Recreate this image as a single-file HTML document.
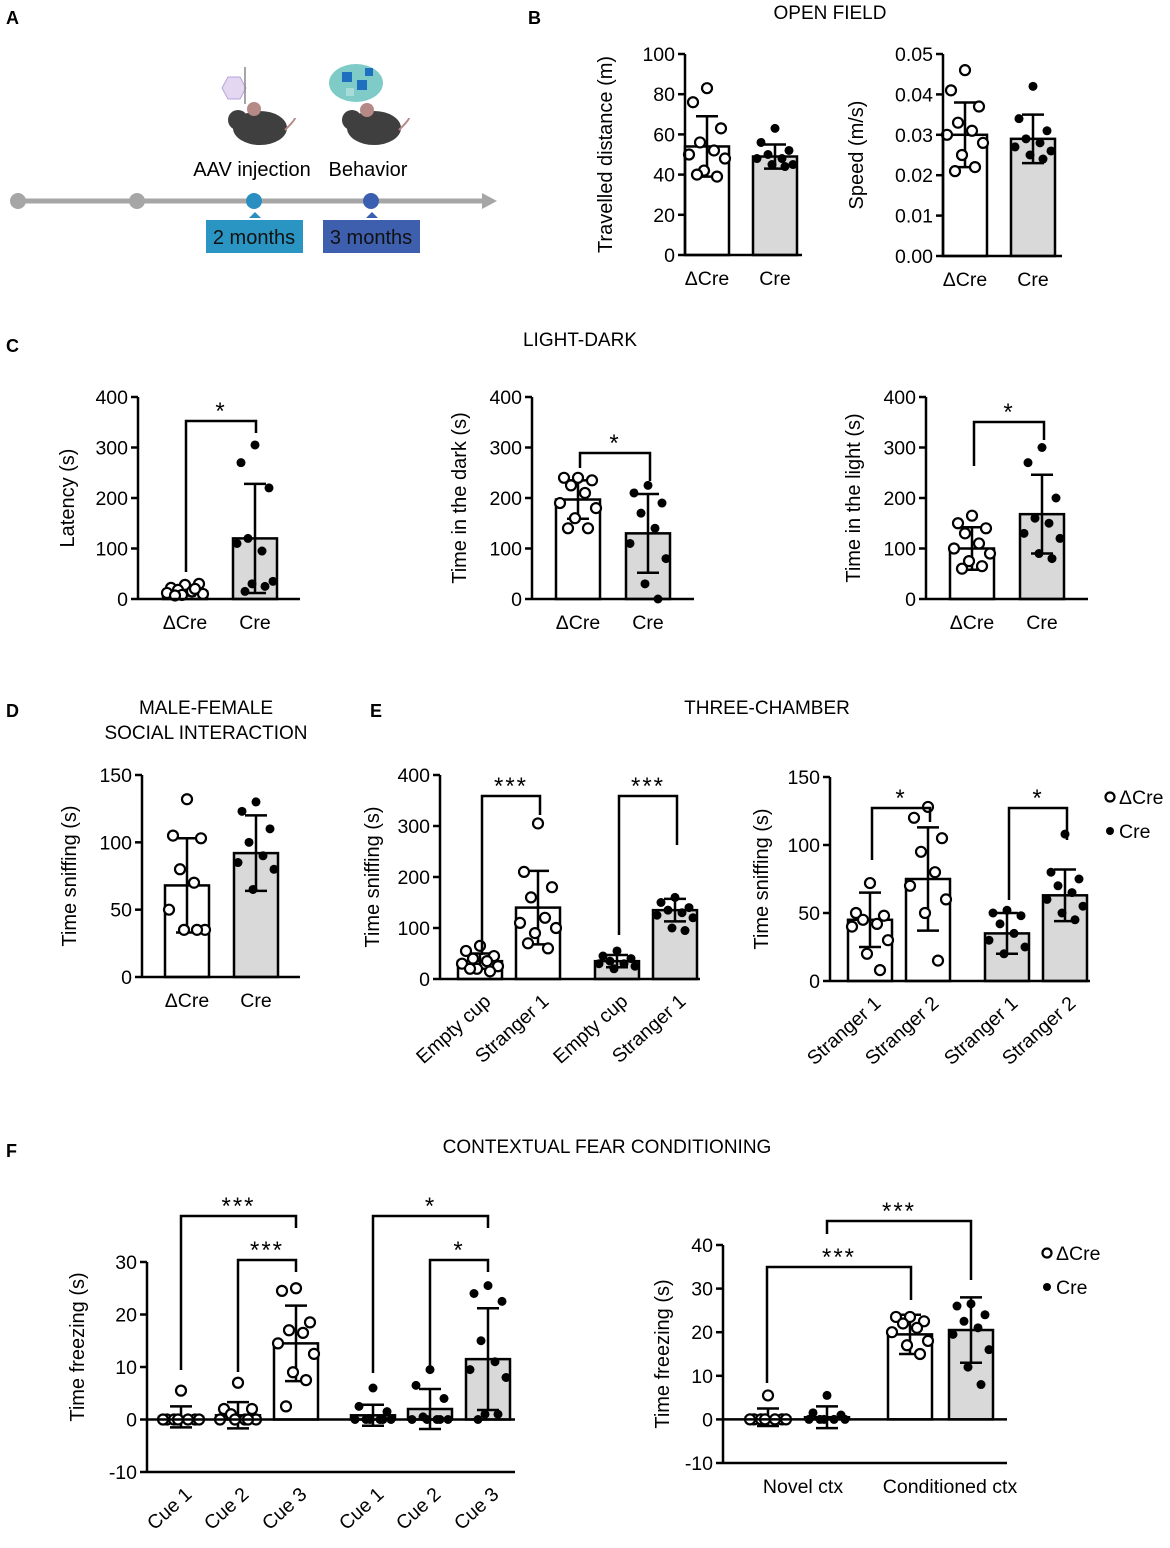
<!DOCTYPE html>
<html><head><meta charset="utf-8">
<style>
html,body{margin:0;padding:0;background:#fff;}
svg{display:block;font-family:"Liberation Sans",Arial,sans-serif;}
</style></head>
<body>
<svg id="fig" width="1170" height="1548" viewBox="0 0 1170 1548" xmlns="http://www.w3.org/2000/svg">
<g font-size="18" font-weight="bold" fill="#000">
<text x="6" y="24">A</text>
<text x="528" y="24">B</text>
<text x="6" y="352">C</text>
<text x="6" y="717">D</text>
<text x="370" y="717">E</text>
<text x="6" y="1157">F</text>
</g>
<g font-size="19" fill="#000" text-anchor="middle">
<text x="830" y="19">OPEN FIELD</text>
<text x="580" y="346">LIGHT-DARK</text>
<text x="206" y="714">MALE-FEMALE</text>
<text x="206" y="739">SOCIAL INTERACTION</text>
<text x="767" y="714">THREE-CHAMBER</text>
<text x="607" y="1153">CONTEXTUAL FEAR CONDITIONING</text>
</g>
<g>
<line x1="18" y1="201" x2="485" y2="201" stroke="#a6a6a6" stroke-width="5"/>
<polygon points="482,193 497,201 482,209" fill="#a6a6a6"/>
<circle cx="18" cy="201" r="8" fill="#a6a6a6"/>
<circle cx="137" cy="201" r="8" fill="#a6a6a6"/>
<circle cx="254" cy="201" r="8" fill="#2a8fc0"/>
<circle cx="371" cy="201" r="8" fill="#3b5fb0"/>
<polygon points="249,218 255,212 261,218" fill="#2a8fc0"/>
<polygon points="366,218 372,212 378,218" fill="#3b5fb0"/>
<rect x="206" y="220" width="97" height="33" fill="#2a94c2"/>
<rect x="323" y="220" width="97" height="33" fill="#3e5fae"/>
<text x="254" y="244" font-size="20" text-anchor="middle" fill="#111">2 months</text>
<text x="371" y="244" font-size="20" text-anchor="middle" fill="#111">3 months</text>
<text x="252" y="176" font-size="20" text-anchor="middle">AAV injection</text>
<text x="368" y="176" font-size="20" text-anchor="middle">Behavior</text>
<g>
<ellipse cx="260" cy="128" rx="27" ry="17" fill="#3f3f3f"/>
<circle cx="238" cy="120" r="10" fill="#3f3f3f"/>
<circle cx="254" cy="109" r="7" fill="#b58a86"/>
<path d="M285 130 q10 -10 10 -12" stroke="#b58a86" stroke-width="2" fill="none"/>
<polygon points="222,88 228,77 240,77 246,88 240,99 228,99" fill="#e3d7f2" stroke="#b9a3dc"/>
<line x1="245" y1="67" x2="245" y2="104" stroke="#888" stroke-width="1.5"/>
</g>
<g>
<ellipse cx="374" cy="128" rx="27" ry="17" fill="#3f3f3f"/>
<circle cx="352" cy="120" r="10" fill="#3f3f3f"/>
<circle cx="367" cy="110" r="7" fill="#b58a86"/>
<path d="M399 130 q10 -10 10 -12" stroke="#b58a86" stroke-width="2" fill="none"/>
<ellipse cx="356" cy="83" rx="27" ry="19" fill="#7ecbc8"/>
<rect x="342" y="72" width="10" height="10" fill="#1f6fbf"/>
<rect x="357" y="80" width="10" height="10" fill="#1f6fbf"/>
<rect x="365" y="68" width="8" height="8" fill="#1f6fbf"/>
<rect x="346" y="88" width="8" height="8" fill="#a9dcd9"/>
</g>
</g>
<g id="charts"></g>
</svg>
<script>
const b1Means=[54,49], b1Sds=[15,6];
const b1Pts=[[83,76,63,56,52,50,48,42,39,40],[63,56,52,50,48,48,45,45,44]];
const b2Means=[0.030,0.029], b2Sds=[0.008,0.006];
const b2Pts=[[0.046,0.041,0.037,0.033,0.031,0.030,0.028,0.025,0.022,0.021],[0.042,0.034,0.031,0.029,0.028,0.027,0.026,0.025,0.024]];
const c1Means=[15,120], c1Sds=[8,108];
const c1Pts=[[28,22,30,18,15,12,10,8,20,7],[305,270,220,120,95,110,35,30,25,15]];
const c2Means=[197,130], c2Sds=[38,78];
const c2Pts=[[240,240,235,225,210,190,180,160,140,140],[225,210,190,170,140,110,80,30,0]];
const c3Means=[100,168], c3Sds=[42,78];
const c3Pts=[[165,150,140,130,110,100,90,75,65,60],[300,270,200,160,150,130,120,90,80]];
const dMeans=[68,92], dSds=[35,28];
const dPts=[[132,105,103,80,70,50,35,35,35],[130,123,110,100,90,85,80,65]];
const e1Means=[35,140,35,135], e1Sds=[15,72,12,22];
const e1Pts=[[65,55,45,40,35,30,25,20,15,20],[305,210,180,160,120,110,100,90,60,70],[55,45,40,35,30,30,25,20],[160,150,140,135,130,125,120,100,95]];
const e2Means=[45,75,35,63], e2Sds=[20,38,15,19];
const e2Pts=[[72,50,48,45,42,40,30,20,8],[128,120,105,95,80,70,60,50,15],[52,50,48,42,35,30,25,20],[108,80,75,70,65,60,55,50,45]];
const f1Means=[0.5,0.8,14.5,0.8,2,11.5], f1Sds=[2,2.5,7.2,2,3.8,9.7];
const f1Pts=[[5.5,0,0,0,0,0,0,0],[7,2,2,1,0,0,0,0,0],[25,24.5,18.5,17,16.5,14.5,12.5,9,7.5,2.5],[6,2.5,1.5,0,0,0,0,0,0],[9.5,6.5,4,0.5,0,0,0,0,0],[25.5,24,22.5,15,11,9.5,8,1,1,0]];
const f2Means=[0.5,0.5,19.5,20.5], f2Sds=[2,2.5,4.5,7.5];
const f2Pts=[[5.5,0,0,0,0,0,0,0],[5.5,1.5,1,0,0,0,0,0],[23.5,23.5,22.5,22,21,20,18,17,15],[26.5,26,24,22.5,21,19.5,16,12,8]];
const twoGroupLabels=["\u0394Cre","Cre"];
const e1Labels=["Empty cup","Stranger 1","Empty cup","Stranger 1"];
const e2Labels=["Stranger 1","Stranger 2","Stranger 1","Stranger 2"];
const f1Labels=["Cue 1","Cue 2","Cue 3","Cue 1","Cue 2","Cue 3"];
const f2Labels=["Novel ctx","Conditioned ctx"];
const tickB1=[0,20,40,60,80,100];
const tickB2=[0,0.01,0.02,0.03,0.04,0.05];
const tickB2Labels=["0.00","0.01","0.02","0.03","0.04","0.05"];
const tick400=[0,100,200,300,400];
const tick150=[0,50,100,150];
const tickF1=[-10,0,10,20,30];
const tickF2=[-10,0,10,20,30,40];

const NS="http://www.w3.org/2000/svg";
const root=document.getElementById('charts');
function mk(tag,attrs,parent,text){const e=document.createElementNS(NS,tag);for(const k in attrs)e.setAttribute(k,attrs[k]);if(text!==undefined)e.textContent=text;(parent||root).appendChild(e);return e;}
const offs=[0,-14,14,-7,7,-18,18,-3,10,-10];
function panel(p){
  const g=mk('g',{});
  
  
  const Y=v=>p.yb+(v-p.ymin)/(p.ymax-p.ymin)*(p.yt-p.yb);
  const base=Math.max(p.ymin,0);
  p.means.forEach((m,i)=>{
    const cx=p.cx[i], w=p.bw||44, fill=p.fills[i];
    const r=mk('rect',{x:cx-w/2,y:Math.min(Y(m),Y(base)),width:w,height:Math.abs(Y(base)-Y(m)),fill:fill,stroke:'#000','stroke-width':2.5},g);
    
    
    const eb=mk('path',{d:`M${cx} ${Y(m-p.sds[i])}V${Y(m+p.sds[i])}M${cx-11} ${Y(m+p.sds[i])}H${cx+11}M${cx-11} ${Y(m-p.sds[i])}H${cx+11}`,stroke:'#000','stroke-width':2.5,fill:'none'},g);
    
    
    const filled=p.filled[i];
    p.pts[i].forEach((v,j)=>{
      const c=mk('circle',{cx:cx+offs[j%offs.length]*(w/44),cy:Y(v),r:filled?4.5:5,fill:filled?'#000':'#fff',stroke:'#000','stroke-width':filled?0:2.2},g);
      
      
    });
  });
  mk('line',{x1:p.ax,y1:p.yt,x2:p.ax,y2:p.yb,stroke:'#000','stroke-width':2.5},g);
  mk('line',{x1:p.ax,y1:p.yb,x2:p.xe,y2:p.yb,stroke:'#000','stroke-width':2.5},g);
  if(p.ymin<0) mk('line',{x1:p.ax,y1:Y(0),x2:p.xe,y2:Y(0),stroke:'#000','stroke-width':2.5},g);
  p.ticks.forEach((t,i)=>{
    mk('line',{x1:p.ax-7,y1:Y(t),x2:p.ax,y2:Y(t),stroke:'#000','stroke-width':2.5},g);
    const tl=mk('text',{x:p.ax-10,y:Y(t)+7,'font-size':19.5,'text-anchor':'end'},g,p.tickLabels?p.tickLabels[i]:String(t));
    
    
  });
  const yt=mk('text',{x:0,y:0,'font-size':20,'text-anchor':'middle',transform:`translate(${p.ax-p.titleOff},${(p.yt+p.yb)/2+(p.titleShift||0)}) rotate(-90)`},g,p.ytitle);
  
  
  if(p.rot){
    p.labels.forEach((l,i)=>{
      const t=mk('text',{x:0,y:0,'font-size':19.5,'text-anchor':'end',transform:`translate(${p.cx[i]+12},${p.yb+24}) rotate(-42)`},g,l);
      
      
    });
  } else {
    p.labels.forEach((l,i)=>{
      const x=p.lx?p.lx[i]:p.cx[i];
      const t=mk('text',{x:x,y:p.yb+30,'font-size':19.5,'text-anchor':'middle'},g,l);
      
      
    });
  }
  (p.brackets||[]).forEach(b=>{
    const bp=mk('path',{d:`M${b.x1} ${b.l1}V${b.y}H${b.x2}V${b.l2}`,stroke:'#000','stroke-width':2.5,fill:'none'},g);
    
    
    const st=mk('text',{x:(b.x1+b.x2)/2,y:b.y-2,'font-size':24,'text-anchor':'middle','letter-spacing':2},g,b.s);
    
    
  });
}
function legend(x,y){
  const g=mk('g',{});
  
  
  mk('circle',{cx:x,cy:y,r:4.5,fill:'#fff',stroke:'#000','stroke-width':2.2},g);
  const t1=mk('text',{x:x+9,y:y+7,'font-size':19.5},g,'\u0394Cre');
  
  
  mk('circle',{cx:x,cy:y+34,r:4,fill:'#000'},g);
  const t2=mk('text',{x:x+9,y:y+41,'font-size':19.5},g,'Cre');
  
  
}
const W='#fff', G='#d9d9d9';
panel({name:'travelled-distance-chart',ax:685,yt:54,yb:255,ymin:0,ymax:100,ticks:tickB1,xe:802,cx:[707,775],means:b1Means,sds:b1Sds,pts:b1Pts,fills:[W,G],filled:[0,1],labels:twoGroupLabels,ytitle:'Travelled distance (m)',titleOff:73});
panel({name:'speed-chart',ax:943,yt:54,yb:256,ymin:0,ymax:0.05,ticks:tickB2,tickLabels:tickB2Labels,xe:1062,cx:[965,1033],means:b2Means,sds:b2Sds,pts:b2Pts,fills:[W,G],filled:[0,1],labels:twoGroupLabels,ytitle:'Speed (m/s)',titleOff:80});
panel({name:'latency-chart',ax:138,yt:397,yb:599,ymin:0,ymax:400,ticks:tick400,xe:300,cx:[185,255],means:c1Means,sds:c1Sds,pts:c1Pts,fills:[W,G],filled:[0,1],labels:twoGroupLabels,ytitle:'Latency (s)',titleOff:64,
 brackets:[{x1:186,x2:256,y:421,l1:572,l2:433,s:'*'}]});
panel({name:'time-dark-chart',ax:532,yt:397,yb:599,ymin:0,ymax:400,ticks:tick400,xe:694,cx:[578,648],means:c2Means,sds:c2Sds,pts:c2Pts,fills:[W,G],filled:[0,1],labels:twoGroupLabels,ytitle:'Time in the dark (s)',titleOff:66,
 brackets:[{x1:580,x2:650,y:453,l1:468,l2:481,s:'*'}]});
panel({name:'time-light-chart',ax:926,yt:397,yb:599,ymin:0,ymax:400,ticks:tick400,xe:1088,cx:[972,1042],means:c3Means,sds:c3Sds,pts:c3Pts,fills:[W,G],filled:[0,1],labels:twoGroupLabels,ytitle:'Time in the light (s)',titleOff:66,
 brackets:[{x1:974,x2:1044,y:422,l1:466,l2:440,s:'*'}]});
panel({name:'social-sniffing-chart',ax:142,yt:775,yb:977,ymin:0,ymax:150,ticks:tick150,xe:300,cx:[187,256],means:dMeans,sds:dSds,pts:dPts,fills:[W,G],filled:[0,1],labels:twoGroupLabels,ytitle:'Time sniffing (s)',titleOff:66});
panel({name:'three-chamber-stranger1-chart',ax:440,yt:775,yb:979,ymin:0,ymax:400,ticks:tick400,xe:700,cx:[480,538,617,675],means:e1Means,sds:e1Sds,pts:e1Pts,fills:[W,W,G,G],filled:[0,0,1,1],labels:e1Labels,rot:true,ytitle:'Time sniffing (s)',titleOff:61,
 brackets:[{x1:482,x2:540,y:796,l1:955,l2:815,s:'***'},{x1:619,x2:677,y:796,l1:935,l2:845,s:'***'}]});
panel({name:'three-chamber-stranger2-chart',ax:830,yt:777,yb:981,ymin:0,ymax:150,ticks:tick150,xe:1090,cx:[870,928,1007,1065],means:e2Means,sds:e2Sds,pts:e2Pts,fills:[W,W,G,G],filled:[0,0,1,1],labels:e2Labels,rot:true,ytitle:'Time sniffing (s)',titleOff:62,
 brackets:[{x1:872,x2:930,y:808,l1:860,l2:822,s:'*'},{x1:1009,x2:1067,y:808,l1:900,l2:840,s:'*'}]});
legend(1110,797);
panel({name:'cue-freezing-chart',ax:147,yt:1262,yb:1472,ymin:-10,ymax:30,ticks:tickF1,xe:515,cx:[181,238,296,373,430,488],means:f1Means,sds:f1Sds,pts:f1Pts,fills:[W,W,W,G,G,G],filled:[0,0,0,1,1,1],labels:f1Labels,rot:true,ytitle:'Time freezing (s)',titleOff:63,titleShift:-20,
 brackets:[{x1:181,x2:296,y:1216,l1:1370,l2:1228,s:'***'},{x1:238,x2:296,y:1260,l1:1372,l2:1272,s:'***'},{x1:373,x2:488,y:1216,l1:1373,l2:1228,s:'*'},{x1:430,x2:488,y:1260,l1:1372,l2:1272,s:'*'}]});
panel({name:'context-freezing-chart',ax:723,yt:1245,yb:1463,ymin:-10,ymax:40,ticks:tickF2,xe:1007,cx:[768,827,910,971],means:f2Means,sds:f2Sds,pts:f2Pts,fills:[W,G,W,G],filled:[0,1,0,1],labels:f2Labels,lx:[803,950],ytitle:'Time freezing (s)',titleOff:54,
 brackets:[{x1:767,x2:911,y:1267,l1:1383,l2:1300,s:'***'},{x1:827,x2:971,y:1221,l1:1234,l2:1280,s:'***'}]});
legend(1047,1253);
</script>
</body></html>
